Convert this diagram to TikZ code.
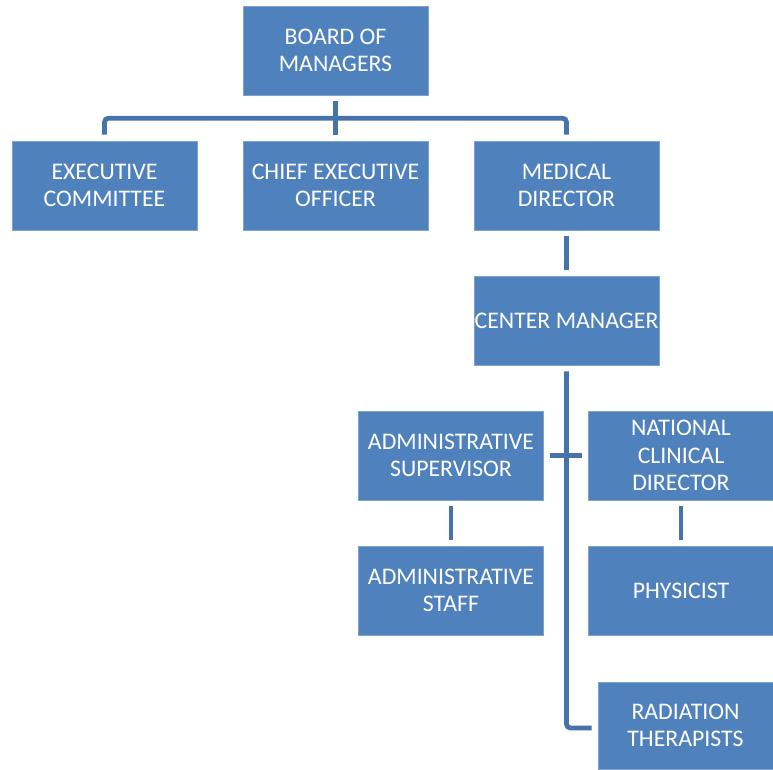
\documentclass[tikz,border=0pt]{standalone}
\usepackage{fontspec}
\setmainfont{Carlito}
\definecolor{boxblue}{HTML}{4F81BD}
\definecolor{boxedge}{HTML}{7FA2CF}
\definecolor{linkblue}{HTML}{4673AA}
\newlength{\orgwidth}
\setlength{\orgwidth}{185pt}
\tikzset{
    orgbox/.style={fill=boxblue, draw=boxedge, line width=0.6pt, text=white,
        minimum width=\orgwidth, minimum height=89pt, align=center, inner sep=0pt,
        font=\fontsize{23.8}{27.2}\selectfont},
    link/.style={draw=linkblue, line width=4.8pt},
}

\begin{document}
\begin{tikzpicture}[x=1pt, y=1pt]
    \useasboundingbox (0,0) rectangle (773,-769);

    \node[orgbox] (board) at (335.5,-50.5) {BOARD OF\\MANAGERS};
    \node[orgbox] (exec) at (104.5,-185.5) {EXECUTIVE\\COMMITTEE};
    \node[orgbox] (ceo) at (335.5,-185.5) {CHIEF EXECUTIVE\\OFFICER};
    \node[orgbox] (med) at (566.5,-185.5) {MEDICAL\\DIRECTOR};
    \node[orgbox] (center) at (566.5,-320.5) {CENTER MANAGER};
    \node[orgbox] (adminsup) at (451,-455.5) {ADMINISTRATIVE\\SUPERVISOR};
    \node[orgbox] (clinical) at (681,-455.5) {NATIONAL\\CLINICAL\\DIRECTOR};
    \node[orgbox] (adminstaff) at (451,-590.5) {ADMINISTRATIVE\\STAFF};
    \node[orgbox] (physicist) at (681,-590.5) {PHYSICIST};
    \node[orgbox, minimum width=175pt, minimum height=87pt] (radiation) at (685.5,-725.5) {RADIATION\\THERAPISTS};

    % board level
    \draw[link, rounded corners=4pt] ([yshift=6pt]exec.north) -- ++(0,16.5) -| ([yshift=6pt]med.north);
    \draw[link] ([yshift=-6pt]board.south) -- ([yshift=6pt]ceo.north);

    % medical branch
    \draw[link] ([yshift=-6pt]med.south) -- ([yshift=6pt]center.north);
    \draw[link, rounded corners=4pt] ([yshift=-6pt]center.south) |- ([xshift=-6pt,yshift=-2.5pt]radiation.west);
    \draw[link] ([xshift=6pt]adminsup.east) -- ([xshift=-6pt]clinical.west);
    \draw[link] ([yshift=-6pt]adminsup.south) -- ([yshift=6pt]adminstaff.north);
    \draw[link] ([yshift=-6pt]clinical.south) -- ([yshift=6pt]physicist.north);
\end{tikzpicture}
\end{document}
